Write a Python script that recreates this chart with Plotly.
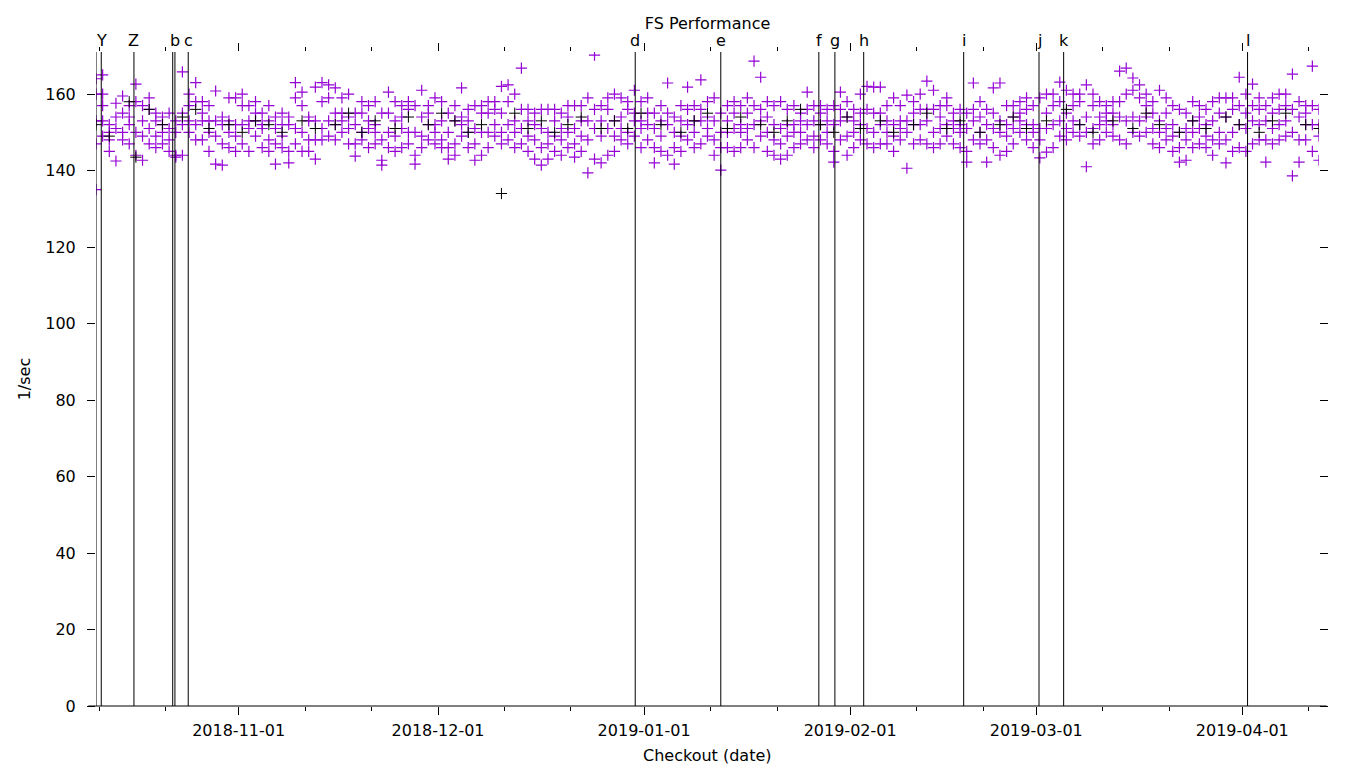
import pandas as pd
import plotly.graph_objects as go

# Premier jour de checkout (un point par mesure, jours consécutifs)
first_day = "2018-10-10 13:00"

# Mesures (1/sec) par jour, série violette
purple_by_day = [
    [135, 147, 153, 160, 164], [149, 153, 157, 160, 165], [145, 148, 150, 152],
    [142.5, 151, 154, 157.6], [148, 150, 155, 159.5],
    [147, 152, 154, 157], [144, 150, 158, 162.6], [142.7, 149, 153, 157],
    [147, 151, 156, 159], [146, 149, 153, 155],
    [147, 150, 152, 154], [145, 148, 151, 155], [143.5, 144, 150, 153],
    [144, 152, 155, 165.8], [150, 153, 157, 160],
    [148, 152, 158, 163], [148, 153, 155, 158], [145, 150, 153, 157],
    [141.7, 149, 153, 160.8], [141.4, 147, 152, 154],
    [146, 150, 153, 159], [145, 149, 152, 159], [147, 152, 157, 160],
    [145, 151, 153, 157], [149, 153, 155, 158],
    [146, 151, 152, 155], [145, 148, 153, 157], [141.7, 147, 151, 154],
    [146, 149, 152, 155], [142, 145, 152, 154],
    [147, 151, 159, 163], [145, 150, 157, 160.5], [145, 148, 153, 154],
    [143, 148, 153, 161.8], [148, 151, 158, 163],
    [149, 153, 159, 162.4], [148, 152, 155, 161.6], [150, 153, 155, 159],
    [147, 151, 154, 160], [143.8, 147, 152, 155],
    [148, 150, 155, 158], [146, 151, 153, 157], [147, 150, 152, 158],
    [141.4, 142.7, 148, 155], [146, 150, 155, 160.5],
    [145, 149, 153, 158], [146, 151, 154, 157], [147, 150, 156, 158],
    [141.7, 144, 150, 157], [146, 149, 154, 161],
    [148, 152, 155, 157], [147, 150, 152, 159], [146, 148, 153, 158],
    [143, 146, 150, 155], [144, 147, 153, 157],
    [149, 152, 154, 161.6], [146, 150, 153, 156], [142.7, 147, 151, 157],
    [144, 150, 155, 157], [146, 150, 155, 158],
    [149, 152, 156, 158], [147, 150, 155, 162], [148, 152, 158, 162.4],
    [146, 150, 153, 160], [147, 151, 156, 166.8],
    [145, 149, 153, 156], [143, 148, 152, 155], [141.4, 146, 151, 156],
    [143, 147, 150, 156], [145, 149, 153, 156],
    [144, 148, 151, 155], [146, 150, 154, 157], [143.5, 147, 151, 157],
    [145, 149, 153, 157], [139.4, 148, 153, 159],
    [143, 151, 156, 170.2], [142, 149, 153, 157], [144, 151, 156, 159],
    [145, 149, 153, 160], [148, 151, 154, 159],
    [147, 150, 156, 158], [149, 153, 155, 161], [146, 151, 153, 158],
    [148, 152, 155, 159], [142, 146, 151, 155],
    [145, 149, 153, 157], [144, 152, 155, 162.9], [141.7, 146, 150, 154],
    [145, 149, 153, 157], [148, 152, 156, 161.8],
    [146, 150, 153, 157], [147, 153, 156, 163.7], [149, 151, 154, 158],
    [144, 148, 153, 159], [140.1, 146, 150, 155],
    [146, 150, 153, 157], [145, 151, 155, 158], [146, 150, 152, 157],
    [148, 151, 155, 159], [146, 152, 157, 168.6],
    [149, 153, 156, 164.4], [145, 150, 154, 158], [144, 148, 152, 157],
    [143, 147, 151, 158], [144, 149, 152, 156],
    [146, 150, 152, 157], [147, 150, 153, 155], [148, 152, 156, 160.5],
    [146, 149, 153, 157], [148, 152, 155, 157],
    [147, 150, 153, 156], [142.2, 145, 152, 157], [148, 153, 156, 160.5],
    [144, 149, 154, 158], [146, 150, 153, 156],
    [148, 152, 155, 160], [147, 151, 156, 162], [146, 150, 155, 161.8],
    [147, 152, 155, 161.8], [147, 150, 153, 157],
    [145, 149, 152, 159], [148, 151, 153, 157], [140.6, 150, 153, 159.7],
    [147, 152, 155, 158], [148, 152, 156, 160],
    [147, 153, 156, 163.4], [146, 150, 156, 161], [147, 151, 154, 157],
    [149, 152, 157, 159], [147, 151, 153, 155],
    [146, 150, 152, 156], [142.2, 145, 151, 155], [148, 153, 156, 162.9],
    [147, 150, 154, 158], [142.2, 148, 152, 156],
    [146, 151, 155, 161.6], [144, 150, 153, 162.9], [145, 149, 152, 157],
    [147, 151, 154, 157], [150, 153, 155, 158],
    [148, 152, 156, 159], [146, 150, 152, 157], [143.3, 148, 151, 159],
    [144.8, 151, 155, 160], [146, 152, 157, 160],
    [149, 153, 158, 163.1], [148, 151, 155, 161], [150, 153, 157, 160],
    [149, 152, 158, 160], [141, 150, 154, 162.4],
    [147, 151, 157, 160], [148, 152, 154, 158], [150, 153, 155, 157],
    [149, 152, 155, 158], [148, 154, 158, 166],
    [147, 153, 160, 166.8], [150, 154, 161, 164.2], [149, 153, 159, 162.4],
    [150, 154, 157, 160], [147, 151, 155, 158],
    [146, 150, 153, 161], [148, 151, 155, 159], [145, 149, 152, 157],
    [142.2, 146, 150, 156], [142.7, 148, 151, 155],
    [146, 150, 153, 158], [147, 151, 154, 157], [146, 149, 152, 156],
    [144, 148, 153, 158], [147, 150, 155, 159],
    [142, 148, 154, 159], [145, 150, 156, 159], [146, 152, 157, 164.4],
    [145, 151, 155, 160], [147, 153, 157, 162.6],
    [148, 152, 156, 159], [142.2, 148, 153, 157], [147, 151, 155, 159],
    [148, 152, 156, 160], [149, 153, 157, 160],
    [138.6, 150, 156, 165.2], [142.2, 148, 154, 158], [148, 152, 155, 157],
    [145, 152, 157, 167.3], [142.7, 149, 152, 156],
]

# Série noire : jour (index depuis first_day) et valeur
black_days = [0, 2, 5, 6, 8, 10, 13, 15, 17, 20, 22, 24, 26, 28, 31, 33, 36,
              38, 40, 42, 45, 47, 50, 52, 54, 56, 58, 61, 63, 65, 67, 69, 71,
              73, 76, 78, 80, 82, 85, 88, 90, 92, 95, 97, 100, 102, 104, 106,
              109, 111, 113, 115, 118, 120, 123, 125, 128, 130, 133, 136, 138,
              140, 143, 146, 148, 150, 153, 156, 158, 160, 163, 165, 167, 170,
              172, 175, 177, 179, 182, 184]
black_vals = [152, 149, 158, 143.5, 156, 152, 154, 156, 151, 152, 150, 153,
              152, 150, 153, 151, 152, 155, 150, 153, 151, 154, 152, 155, 153,
              150, 152, 134, 155, 151, 153, 150, 152, 154, 151, 153, 151, 155,
              152, 150, 153, 155, 151, 154, 152, 150, 153, 156, 152, 150, 154,
              151, 153, 150, 152, 155, 151, 153, 150, 152, 154, 151, 153, 156,
              152, 150, 153, 151, 155, 152, 150, 153, 151, 154, 152, 150, 153,
              155, 152, 151]

# Repères verticaux (date, libellé)
event_dates = ["2018-10-10 13:00", "2018-10-11 08:00", "2018-10-16 06:00",
               "2018-10-22 02:00", "2018-10-22 10:00", "2018-10-24 10:00",
               "2018-12-30 16:00", "2019-01-12 13:00", "2019-01-27 07:00",
               "2019-01-29 17:00", "2019-02-03 01:00", "2019-02-18 02:00",
               "2019-03-01 10:00", "2019-03-05 03:00", "2019-04-01 19:00"]
event_labels = ["", "Y", "Z", "", "b", "c", "d", "e", "f", "g", "h", "i",
                "j", "k", "l"]

major_ticks = ["2018-11-01", "2018-12-01", "2019-01-01", "2019-02-01",
               "2019-03-01", "2019-04-01"]

days = pd.date_range(first_day, periods=len(purple_by_day), freq="D")

px_, py_ = [], []
for d, vals in zip(days, purple_by_day):
    px_ += [d] * len(vals)
    py_ += vals
bx_ = [days[i] for i in black_days]

# ticks mineurs: environ au tiers de chaque mois
minor_ticks = []
for m in pd.date_range("2018-10-01", "2019-04-01", freq="MS"):
    minor_ticks += [m + pd.Timedelta(days=10), m + pd.Timedelta(days=20)]

font = "DejaVu Sans"
fs = 16
fig = go.Figure()
fig.add_trace(go.Scatter(x=px_, y=py_, mode="markers",
                         marker=dict(symbol="cross-thin", size=8,
                                     line=dict(color="#9400D3", width=1.2))))
fig.add_trace(go.Scatter(x=bx_, y=black_vals, mode="markers",
                         marker=dict(symbol="cross-thin", size=8,
                                     line=dict(color="#000000", width=1))))

for d, lab in zip(event_dates, event_labels):
    fig.add_shape(type="line", x0=d, x1=d, xref="x", y0=0, y1=1, yref="paper",
                  line=dict(color="black", width=1))
    if lab:
        fig.add_annotation(x=d, xref="x", y=1.018, yref="paper", text=lab,
                           showarrow=False, yanchor="middle",
                           font=dict(family=font, size=fs, color="black"))

# ligne du bas
fig.add_shape(type="line", x0=-0.0063, x1=1.0063, xref="paper", y0=0, y1=0,
              yref="paper", line=dict(color="black", width=1))

fig.add_annotation(text="Checkout (date)", x=0.5, xref="paper", y=-0.075,
                   yref="paper", showarrow=False, yanchor="middle",
                   font=dict(family=font, size=fs, color="black"))
fig.add_annotation(text="1/sec", x=-0.0586, xref="paper", y=0.5, yref="paper",
                   showarrow=False, textangle=-90, xanchor="center",
                   font=dict(family=font, size=fs, color="black"))

fig.update_layout(
    width=1360, height=768,
    margin=dict(l=96, r=41, t=52, b=62),
    paper_bgcolor="white", plot_bgcolor="white",
    showlegend=False,
    font=dict(family=font, size=fs, color="black"),
    title=dict(text="FS Performance", x=0.5, xref="paper", y=1 - 23 / 768,
               yanchor="middle", font=dict(family=font, size=fs, color="black")),
    xaxis=dict(type="date", range=[days[0], days[-1]],
               tickvals=major_ticks, ticktext=major_ticks,
               ticks="outside", ticklen=8, tickcolor="black", tickwidth=1,
               mirror="ticks", showgrid=False, showline=False, zeroline=False,
               ticklabelstandoff=2,
               minor=dict(tickvals=minor_ticks, ticks="outside", ticklen=4,
                          tickcolor="black", showgrid=False)),
    yaxis=dict(range=[0, 171], tickvals=list(range(0, 161, 20)),
               ticks="outside", ticklen=8, tickcolor="black", tickwidth=1,
               mirror="ticks", showgrid=False, showline=False, zeroline=False,
               ticklabelstandoff=8),
)

fig.write_html("out.html", config={"displayModeBar": False},
               post_script="document.body.style.margin='0';"
                           "document.body.style.overflow='hidden';")
